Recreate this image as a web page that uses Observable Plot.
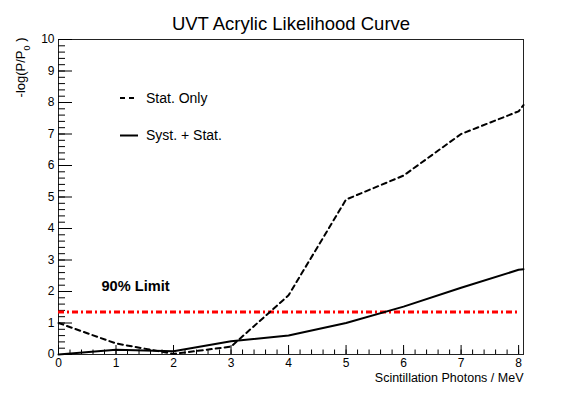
<!DOCTYPE html>
<html><head><meta charset="utf-8">
<script src="https://cdn.jsdelivr.net/npm/d3@7"></script>
<script src="https://cdn.jsdelivr.net/npm/@observablehq/plot@0.6"></script>
<style>body{margin:0;background:#fff}</style>
</head><body><div id="chart"></div>
<script>
// ---- data ----
const photons  = [0, 1, 2, 3, 4, 5, 6, 7, 8, 8.085];
const statOnly = [1.0, 0.35, 0.02, 0.25, 1.88, 4.92, 5.68, 7.0, 7.72, 7.92];
const systStat = [0.0, 0.15, 0.10, 0.42, 0.60, 1.0, 1.52, 2.12, 2.69, 2.71];
const limitValue = 1.35;
const limitSpan = [0, 8];
const xTicks = [0, 1, 2, 3, 4, 5, 6, 7, 8];
const yTicks = [0, 1, 2, 3, 4, 5, 6, 7, 8, 9, 10];
const xMinor = d3.range(0, 8.001, 0.2);
const yMinor = d3.range(0, 10.001, 0.2);
const legendLabels = ["Stat. Only", "Syst. + Stat."];
const legendDash = ["5,4", null];
const titleText = "UVT Acrylic Likelihood Curve";
const xTitle = "Scintillation Photons / MeV";
const limitLabel = "90% Limit";

const rows = photons.map((x, i) => ({x, stat: statOnly[i], syst: systStat[i]}));

function legendMark(index, scales, values, dim) {
  const g = d3.create("svg:g");
  legendLabels.forEach((lab, i) => {
    const y = 98 + i * 37.5;
    g.append("line").attr("x1", 120).attr("x2", 138).attr("y1", y).attr("y2", y)
      .attr("stroke", "#000").attr("stroke-width", 2)
      .attr("stroke-dasharray", legendDash[i]);
    g.append("text").attr("x", 146).attr("y", y).attr("dy", "0.35em")
      .attr("text-anchor", "start")
      .attr("font-size", 14).attr("fill", "#000").text(lab);
  });
  return g.node();
}

const plot = Plot.plot({
  width: 581, height: 394,
  marginLeft: 58, marginRight: 58, marginTop: 39, marginBottom: 40,
  style: {fontFamily: "'Liberation Sans', Arial, Helvetica, sans-serif", color: "#000", background: "#fff"},
  x: {domain: [0, 8.085], axis: null},
  y: {domain: [0, 10], axis: null},
  marks: [
    Plot.frame({stroke: "#222", strokeWidth: 1}),
    Plot.axisX(xMinor, {tickSize: 4.5, dy: -4.5, tickFormat: () => "", label: null}),
    Plot.axisX(xTicks, {tickSize: 9, dy: -9, tickFormat: () => "", label: null}),
    Plot.axisX(xTicks, {tickSize: 0, tickPadding: 4, fontSize: 12, label: null}),
    Plot.axisY(yMinor, {tickSize: 7, dx: 7, tickFormat: () => "", label: null}),
    Plot.axisY(yTicks, {tickSize: 14, dx: 14, tickFormat: () => "", label: null}),
    Plot.axisY(yTicks, {tickSize: 0, tickPadding: 4, fontSize: 12, label: null}),
    Plot.ruleY([limitValue], {x1: limitSpan[0], x2: limitSpan[1], stroke: "#ff0000", strokeWidth: 3, strokeDasharray: "6,3,2,3"}),
    Plot.line(rows, {x: "x", y: "stat", stroke: "#000", strokeWidth: 2, strokeDasharray: "5,4"}),
    Plot.line(rows, {x: "x", y: "syst", stroke: "#000", strokeWidth: 2}),
    Plot.text([limitLabel], {frameAnchor: "bottom-left", dx: 43, dy: -64, textAnchor: "start", fontSize: 14.6, fontWeight: "bold", fill: "#000"}),
    Plot.text([titleText], {frameAnchor: "top", dy: -23, fontSize: 18.5, fill: "#000"}),
    Plot.text([xTitle], {frameAnchor: "bottom-right", dy: 27, textAnchor: "end", fontSize: 12.5, fill: "#000"}),
    Plot.text(["-log(P/P"], {frameAnchor: "top-left", dx: -43, dy: -2, rotate: -90, textAnchor: "end", fontSize: 13, fill: "#000", className: "ylab"}),
    legendMark
  ]
});

// subscript for the y label
d3.select(plot).selectAll("g.ylab text").each(function() {
  const t = d3.select(this);
  t.text("-log(P/P");
  t.append("tspan").attr("baseline-shift", "sub").attr("font-size", "9").text("0");
  t.append("tspan").text(" )");
});
document.getElementById("chart").appendChild(plot);
</script>
</body></html>
